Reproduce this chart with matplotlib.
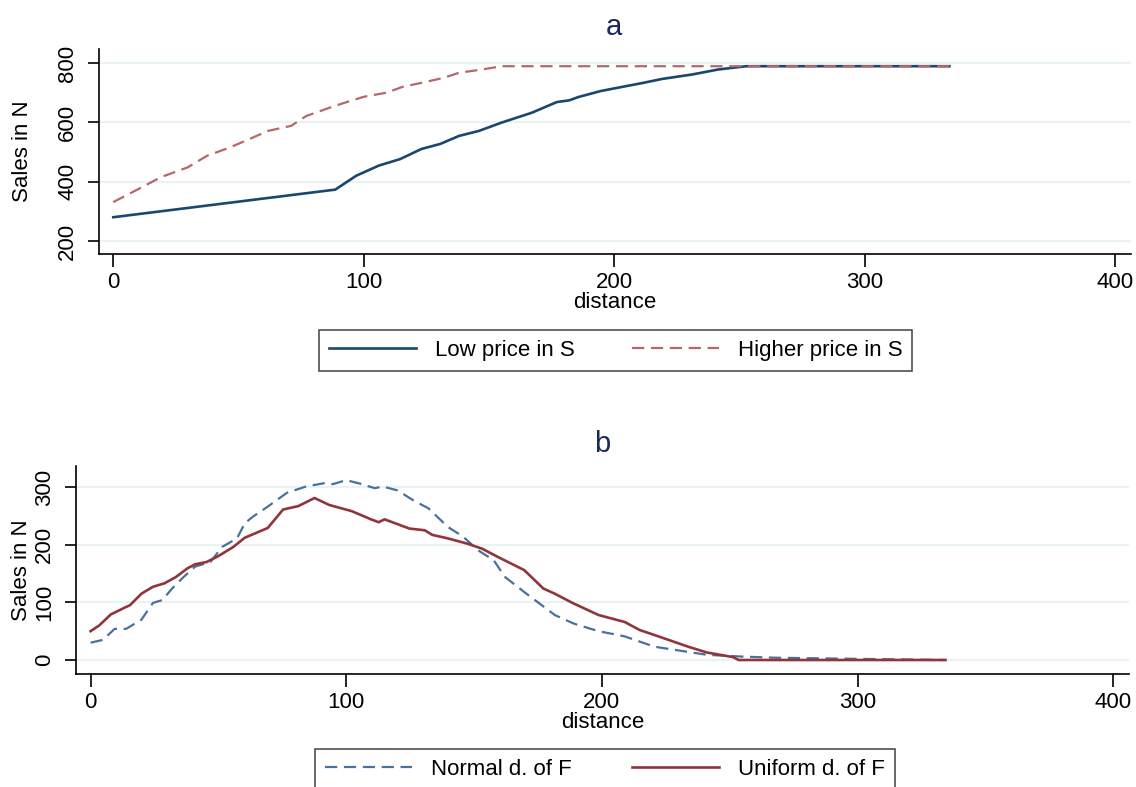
import matplotlib
matplotlib.use("Agg")
import matplotlib.pyplot as plt

plt.rcParams['font.family'] = ['Liberation Sans', 'DejaVu Sans']

# ---- Panel a data ----
low_x = [0, 88.6, 97, 106, 114.5, 123, 130.5, 138, 146, 155, 167, 177, 182, 185.6, 194.4, 198,
         211.6, 219, 231, 241.5, 252.7, 333.7]
low_y = [280, 373, 420, 454, 476, 510, 527, 554, 571, 599, 632, 668, 674, 685, 705, 711,
         733, 746, 761, 778, 789, 789]
high_x = [0, 11.4, 19, 29.7, 37.4, 46.5, 54.2, 61.8, 71, 77, 86.3, 92.4, 100, 109.2, 115.3,
          123, 132, 138, 147.3, 155, 333.7]
high_y = [331, 381, 415, 448, 487, 515, 543, 571, 588, 621, 649, 666, 686, 700, 719,
          733, 750, 767, 778, 789, 789]

# ---- Panel b data ----
unif_x = [0, 3.4, 7.9, 13.9, 15.4, 19.9, 24.4, 28.9, 33.4, 37.9, 40.9, 45.4, 49.9, 55.8, 60.3,
          69.3, 75.3, 81.3, 87.6, 93.3, 102.3, 109.7, 112.7, 115, 124.7, 130.7, 133.7, 139.7,
          147.2, 153.2, 159.2, 169.6, 177.1, 181.6, 188.5, 198.7, 208.9, 214.8, 222.1, 233.8,
          241.1, 251.3, 253.5, 334.4]
unif_y = [50, 60, 79, 92, 95, 115, 127, 133, 144, 159, 166, 170, 180, 196, 212,
          229, 261, 267, 281, 269, 258, 244, 239, 244, 228, 225, 217, 211,
          202, 193, 179, 156, 124, 115, 99, 78, 66, 52, 41, 23,
          13, 5, 0, 0]
norm_x = [0, 4.9, 9.4, 13.9, 19.9, 24.4, 28.1, 31.9, 36.4, 40.9, 46.9, 51.4, 57.3, 60.3, 63.3,
          69.3, 76.8, 84.3, 91.8, 94.8, 100, 105.3, 111.2, 114.2, 120.2, 126.2, 132.2, 139.7,
          145.7, 151.7, 157.7, 162.1, 169.6, 175.6, 181.6, 189.1, 198.7, 208.9, 220.6, 229.4,
          241.1, 254.3, 267.4, 282.6, 299.6, 334.4]
norm_y = [30, 35, 54, 54, 70, 99, 104, 124, 144, 162, 170, 196, 211, 237, 248,
          266, 290, 301, 307, 305, 312, 306, 298, 301, 294, 277, 263, 231,
          214, 190, 173, 144, 118, 98, 78, 63, 50, 41, 23, 17,
          9, 6, 4, 3, 2, 0]

x_ticks = [0, 100, 200, 300, 400]
a_yticks = [200, 400, 600, 800]
b_yticks = [0, 100, 200, 300]

FS = 16
W, H = 1136, 787
fig = plt.figure(figsize=(W / 100, H / 100), dpi=100)

def px_axes(l, t, r, b):
    return fig.add_axes([l / W, 1 - b / H, (r - l) / W, (b - t) / H])

ax1 = px_axes(99, 49, 1131, 254)
ax2 = px_axes(76, 466, 1129, 674)

grid_c = '#eaf2f3'

def style(ax, yticks, ylim, xlab_y, ylab_x):
    ax.set_xlim(-5.7, 406.2)
    ax.set_ylim(*ylim)
    ax.set_xticks(x_ticks)
    ax.set_yticks(yticks)
    for s in ['top', 'right']:
        ax.spines[s].set_visible(False)
    for s in ['left', 'bottom']:
        ax.spines[s].set_linewidth(1.2)
        ax.spines[s].set_color('black')
    ax.tick_params(axis='both', direction='out', length=8, width=1.2, labelsize=FS, pad=7)
    ax.tick_params(axis='x', length=9, pad=4)
    for lab in ax.get_yticklabels():
        lab.set_rotation(90)
        lab.set_va('center')
    ax.yaxis.grid(True, color=grid_c, lw=1.6)
    ax.set_axisbelow(True)
    ax.set_xlabel('distance', fontsize=FS, va='top')
    ax.set_ylabel('Sales in N', fontsize=FS, va='center')
    ax.xaxis.set_label_coords(0.5, xlab_y)
    ax.yaxis.set_label_coords(ylab_x, 0.5)

style(ax1, a_yticks, (156, 847), -0.185, -0.0746)
style(ax2, b_yticks, (-24.3, 336.5), -0.183, -0.0513)

ax1.plot(low_x, low_y, color='#1a476f', lw=1.9, label='Low price in S')
ax1.plot(high_x, high_y, color='#b5676c', lw=1.6, dashes=(5.5, 3), label='Higher price in S')

ax2.plot(norm_x, norm_y, color='#4a7199', lw=1.6, dashes=(5.5, 3), label='Normal d. of F')
ax2.plot(unif_x, unif_y, color='#90353b', lw=1.9, label='Uniform d. of F')

title_c = '#1c2a5a'
fig.text(614 / W, 1 - 34.7 / H, 'a', ha='center', va='baseline', fontsize=21, color=title_c)
fig.text(602 / W, 1 - 452 / H, 'b', ha='center', va='baseline', fontsize=21, color=title_c)

def legend(ax, left, top, colsp):
    lg = ax.legend(loc='upper left', bbox_to_anchor=(left / W, 1 - top / H),
                   bbox_transform=fig.transFigure, ncol=2, fontsize=FS,
                   frameon=True, fancybox=False, handlelength=3.9,
                   handletextpad=0.85, columnspacing=colsp, borderpad=0.45,
                   borderaxespad=0)
    fr = lg.get_frame()
    fr.set_edgecolor('#222222')
    fr.set_linewidth(1.2)
    return lg

legend(ax1, 319, 330, 2.6)
legend(ax2, 315, 749, 2.75)

fig.savefig('out.png', dpi=100)
